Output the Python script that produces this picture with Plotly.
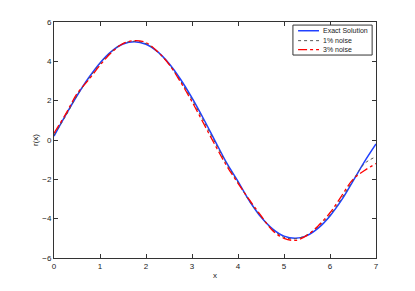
import plotly.graph_objects as go

x = [0, 0.25, 0.5, 0.75, 1.0, 1.25, 1.5, 1.75, 2.0, 2.25, 2.5, 2.75, 3.0, 3.25, 3.5,
     3.75, 4.0, 4.25, 4.5, 4.75, 5.0, 5.25, 5.5, 5.75, 6.0, 6.25, 6.5, 6.75, 7.0]

exact = [0.2, 1.25, 2.25, 3.15, 3.92, 4.51, 4.88, 5.0, 4.87, 4.49, 3.89, 3.09, 2.14, 1.08, -0.04,
         -1.15, -2.1, -3.1, -3.92, -4.52, -4.89, -5.0, -4.86, -4.47, -3.86, -3.06, -2.09, -1.1, -0.2]

noise1 = [0.25, 1.2, 2.25, 3.1, 3.88, 4.5, 4.9, 5.02, 4.9, 4.48, 3.85, 3.0, 2.05, 0.98, -0.12,
          -1.2, -2.15, -3.12, -3.9, -4.55, -4.95, -5.02, -4.82, -4.4, -3.8, -2.98, -2.05, -1.2, -0.85]

noise3 = [0.35, 1.3, 2.35, 3.05, 3.8, 4.45, 4.9, 5.05, 4.95, 4.5, 3.85, 2.95, 1.95, 0.85, -0.25,
          -1.3, -2.2, -3.05, -3.85, -4.6, -5.0, -5.1, -4.85, -4.35, -3.7, -2.85, -2.0, -1.55, -1.2]

x_ticks = [0, 1, 2, 3, 4, 5, 6, 7]
y_ticks = [-6, -4, -2, 0, 2, 4, 6]

series_names = ["Exact Solution", "1% noise", "3% noise"]
series_colors = ["#2040ff", "#555555", "#ff0000"]
series_dash = ["solid", "dot", "dashdot"]
series_width = [1.5, 1, 1.3]
series_values = [exact, noise1, noise3]

FONT = "Liberation Sans, Arial, sans-serif"

fig = go.Figure()
for name, col, dash, w, vals in zip(series_names, series_colors, series_dash, series_width, series_values):
    fig.add_trace(go.Scatter(x=x, y=vals, mode="lines", name=name, showlegend=False,
                             line=dict(color=col, width=w, dash=dash, shape="spline")))

axis_common = dict(showgrid=False, zeroline=False, showline=True, linecolor="#333333",
                   linewidth=1, mirror="ticks", ticks="inside", ticklen=4, tickcolor="#333333",
                   automargin=False,
                   tickfont=dict(family=FONT, size=8, color="#222"))

fig.update_xaxes(range=[0, 7], tickvals=x_ticks, ticklabelstandoff=0,
                 title=dict(text="x", font=dict(size=8), standoff=2), **axis_common)
fig.update_yaxes(range=[-6, 6], tickvals=y_ticks,
                 title=dict(text="r(x)", font=dict(size=8), standoff=2), **axis_common)

# custom compact legend (MATLAB style box)
shapes = [dict(type="rect", xref="paper", yref="paper", x0=0.742, x1=0.988, y0=0.860, y1=0.987,
               line=dict(color="#333333", width=1), fillcolor="white", layer="above")]
annotations = []
rows = [0.963, 0.921, 0.883]
for name, col, dash, w, yr in zip(series_names, series_colors, series_dash, series_width, rows):
    shapes.append(dict(type="line", xref="paper", yref="paper", x0=0.758, x1=0.823, y0=yr, y1=yr,
                       line=dict(color=col, width=w, dash=dash), layer="above"))
    annotations.append(dict(xref="paper", yref="paper", x=0.830, y=yr, text=name, showarrow=False,
                            xanchor="left", yanchor="middle",
                            font=dict(family=FONT, size=7, color="#222")))

fig.update_layout(
    width=407, height=283,
    margin=dict(l=46, r=39, t=14, b=33),
    paper_bgcolor="white", plot_bgcolor="white",
    font=dict(family=FONT, size=8, color="#222"),
    showlegend=False,
    shapes=shapes,
    annotations=annotations,
)

fig.write_html("out.html")
